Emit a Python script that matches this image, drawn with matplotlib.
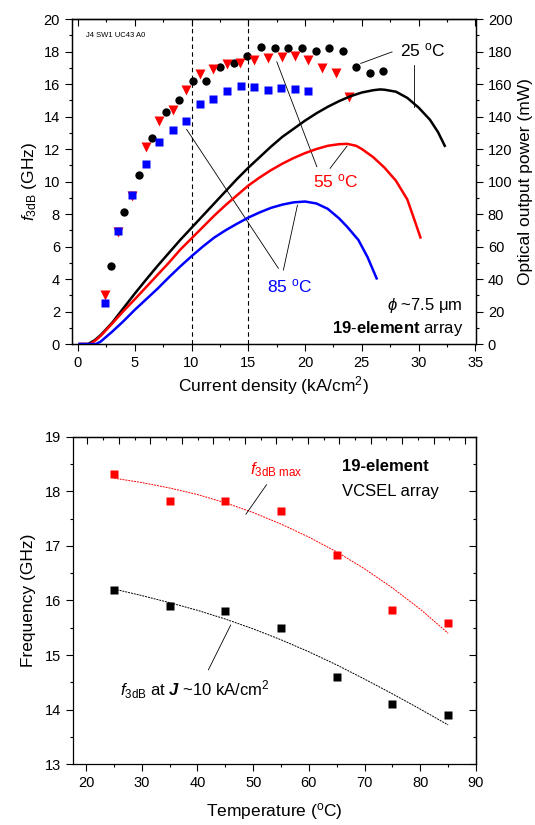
import numpy as np
import matplotlib.pyplot as plt
from matplotlib.ticker import MultipleLocator

plt.rcParams['font.family'] = ['Liberation Sans', 'DejaVu Sans']
plt.rcParams['mathtext.fontset'] = 'custom'
plt.rcParams['mathtext.rm'] = 'Liberation Sans'
plt.rcParams['mathtext.it'] = 'Liberation Sans:italic'
plt.rcParams['mathtext.bf'] = 'Liberation Sans:bold'
if 'mathtext.bfit' in plt.rcParams:
    plt.rcParams['mathtext.bfit'] = 'Liberation Sans:bold:italic'
plt.rcParams['axes.linewidth'] = 0.9

# ---- top panel: f3dB (symbols) and L-I curves vs current density ----
j25 = [2.95, 4.1, 5.35, 6.55, 7.75, 8.9, 10.1, 11.3, 12.55, 13.75, 14.9,
       16.1, 17.35, 18.5, 19.7, 20.95, 22.1, 23.3, 24.5, 25.7, 26.9]
f25 = [4.8, 8.1, 10.4, 12.7, 14.3, 15.0, 16.2, 16.2, 17.05, 17.3, 17.7,
       18.3, 18.2, 18.2, 18.2, 18.05, 18.2, 18.05, 17.05, 16.7, 16.8]
j55 = [2.35, 3.55, 4.73, 5.95, 7.13, 8.33, 9.52, 10.73, 11.92, 13.1, 14.28,
       15.5, 16.7, 17.93, 19.1, 20.3, 21.5, 22.7, 23.9]
f55 = [3.0, 6.9, 9.1, 12.1, 13.7, 14.4, 15.65, 16.6, 16.9, 17.25, 17.3,
       17.45, 17.6, 17.65, 17.75, 17.5, 17.0, 16.7, 15.2]
j85 = [2.38, 3.55, 4.73, 5.95, 7.13, 8.33, 9.52, 10.73, 11.92, 13.15, 14.33,
       15.5, 16.7, 17.9, 19.1, 20.3]
f85 = [2.55, 6.95, 9.15, 11.1, 12.45, 13.2, 13.7, 14.8, 15.08, 15.6, 15.85,
       15.8, 15.65, 15.75, 15.7, 15.55]

# optical output power (mW)
li_j25 = [0.15, 0.9, 1.5, 2, 3, 4, 5, 6, 7, 8, 9, 10, 11, 12, 13, 14, 15, 16,
          17, 18, 19, 20, 21, 22, 23, 24, 25, 26, 26.6, 27, 28, 29, 30, 31,
          31.7, 32.3]
li_p25 = [0, 0, 2.5, 5.5, 13, 22, 31, 39.6, 48, 56, 64, 71.5, 79, 86.5, 94,
          101.5, 108.5, 115, 121.5, 127.5, 132.5, 137.5, 142, 146, 149.5,
          152.5, 154.8, 156.2, 156.7, 156.5, 155.3, 151.5, 145.5, 138, 130.5,
          122]
li_j55 = [0.15, 1.1, 1.6, 2, 3, 4, 5, 6, 7, 8, 9, 10, 11, 12, 13, 14, 15, 16,
          17, 18, 19, 20, 21, 22, 23, 23.7, 24.5, 25, 26, 27, 28, 29, 29.6,
          30.16]
li_p55 = [0, 0, 2.5, 5, 12.5, 20.2, 27.5, 35, 42.5, 50, 58, 65, 72, 79, 85.5,
          91.5, 97.5, 102.5, 107, 111, 114.5, 117.5, 120, 122, 123, 123.2,
          122, 120, 115, 108.5, 100.5, 89, 77, 65.6]
li_j85 = [0.15, 1.6, 2, 3, 4, 5, 6, 7, 8, 9, 10, 11, 12, 13, 14, 15, 16, 17,
          18, 19, 20, 21, 22, 23, 23.7, 24.7, 25.5, 26.3]
li_p85 = [0, 0, 1.5, 7.5, 14, 21, 27.5, 34, 41, 47.7, 54, 60, 65.5, 70, 74,
          77.8, 81, 83.8, 85.8, 87.2, 87.7, 86.5, 83.2, 77.3, 72.2, 64, 53.5,
          40.4]

# ---- bottom panel: frequency vs temperature ----
temps = [25, 35, 45, 55, 65, 75, 85]
f3db_max = [18.32, 17.83, 17.83, 17.63, 16.83, 15.83, 15.58]
f3db_j10 = [16.2, 15.9, 15.8, 15.5, 14.6, 14.1, 13.9]
fit_t = [25, 30, 35, 40, 45, 50, 55, 60, 65, 70, 75, 80, 85]
fit_max = [18.24, 18.16, 18.06, 17.94, 17.79, 17.61, 17.40, 17.16, 16.89,
           16.58, 16.23, 15.84, 15.40]
fit_j10 = [16.21, 16.09, 15.96, 15.82, 15.66, 15.48, 15.28, 15.06, 14.82,
           14.56, 14.29, 14.01, 13.72]

RED = '#ff0000'
BLUE = '#0000ff'

fig = plt.figure(figsize=(5.35, 8.25), dpi=100)

# ================= top =================
ax1 = fig.add_axes([0.134, 0.583, 0.7557, 0.3939])
ax1.set_xlim(-0.55, 35.05)
ax1.set_ylim(0, 20)

ax1.axvline(10, color='k', lw=0.8, ls=(0, (4, 3)))
ax1.axvline(15, color='k', lw=0.8, ls=(0, (4, 3)))

ax1.plot(j25, f25, 'o', color='k', ms=6, mec='none', zorder=3)
ax1.plot(j55, f55, 'v', color=RED, ms=7, mec='none', zorder=3)
ax1.plot(j85, f85, 's', color=BLUE, ms=5.5, mec='none', zorder=3)

ax1.xaxis.set_major_locator(MultipleLocator(5))
ax1.xaxis.set_minor_locator(MultipleLocator(2.5))
ax1.yaxis.set_major_locator(MultipleLocator(2))
ax1.yaxis.set_minor_locator(MultipleLocator(1))
ax1.tick_params(which='both', direction='out', top=False, right=False,
                labelsize=10.5, width=0.8)
ax1.tick_params(which='major', length=5)
ax1.tick_params(which='minor', length=2.5)
top1 = ax1.secondary_xaxis('top')
top1.xaxis.set_major_locator(MultipleLocator(5))
top1.xaxis.set_minor_locator(MultipleLocator(2.5))
top1.tick_params(which='both', direction='in', labeltop=False, width=0.8)
top1.tick_params(which='major', length=5)
top1.tick_params(which='minor', length=2.5)

ax1.set_xlabel('Current density (kA/cm$^2$)', fontsize=12.5, labelpad=3)
ax1.set_ylabel('$f_{\\rm 3dB}$ (GHz)', fontsize=12.5, labelpad=3)

ax2 = ax1.twinx()
ax2.set_ylim(0, 200)
ax2.plot(li_j25, li_p25, color='k', lw=1.8)
ax2.plot(li_j55, li_p55, color=RED, lw=1.8)
ax2.plot(li_j85, li_p85, color=BLUE, lw=1.8)
ax2.yaxis.set_major_locator(MultipleLocator(20))
ax2.yaxis.set_minor_locator(MultipleLocator(10))
ax2.tick_params(which='both', direction='out', labelsize=10.5, width=0.8)
ax2.tick_params(which='major', length=5)
ax2.tick_params(which='minor', length=2.5)
ax2.set_ylabel('Optical output power (mW)', fontsize=12.5, labelpad=4)

# labels and leader lines
ax1.text(0.68, 19.0, 'J4 SW1 UC43 A0', fontsize=5.5, va='center')
ax1.text(28.4, 18.06, '25 $^{\\rm o}$C', fontsize=12.5, va='center')
ax1.plot([24.9, 27.66], [17.27, 17.98], color='k', lw=0.6)
ax1.plot([29.57, 29.57], [17.17, 14.6], color='k', lw=0.6)
ax1.text(20.74, 9.99, '55 $^{\\rm o}$C', fontsize=12.5, color=RED, va='center')
ax1.plot([17.51, 21.04], [17.37, 10.91], color='k', lw=0.6)
ax1.plot([22.2, 23.69], [10.81, 12.18], color='k', lw=0.6)
ax1.text(16.63, 3.53, '85 $^{\\rm o}$C', fontsize=12.5, color=BLUE, va='center')
ax1.plot([9.57, 17.65], [13.21, 4.66], color='k', lw=0.6)
ax1.plot([18.09, 19.33], [4.55, 8.55], color='k', lw=0.6)
ax1.text(33.84, 2.4, '$\\phi$ ~7.5 μm', fontsize=12, ha='right', va='center')
ax1.text(33.95, 0.97, '$\\mathbf{19\\text{-}element}$ array', fontsize=12,
         ha='right', va='center')

# ================= bottom =================
ax3 = fig.add_axes([0.1359, 0.0736, 0.7538, 0.3971])
ax3.set_xlim(17.6, 90)
ax3.set_ylim(13, 19)

ax3.plot(fit_t, fit_max, color=RED, lw=0.7, ls=(0, (2, 1)))
ax3.plot(fit_t, fit_j10, color='k', lw=0.7, ls=(0, (2, 1)))
ax3.plot(temps, f3db_max, 's', color=RED, ms=5.5, mec='none')
ax3.plot(temps, f3db_j10, 's', color='k', ms=5.5, mec='none')

ax3.xaxis.set_major_locator(MultipleLocator(10))
ax3.xaxis.set_minor_locator(MultipleLocator(5))
ax3.yaxis.set_major_locator(MultipleLocator(1))
ax3.yaxis.set_minor_locator(MultipleLocator(0.5))
ax3.tick_params(which='both', direction='out', top=False, right=False,
                labelsize=10.5, width=0.8)
ax3.tick_params(which='major', length=5)
ax3.tick_params(which='minor', length=2.5)

# mirrored axes on top and right with inward ticks
top3 = ax3.secondary_xaxis('top', functions=(lambda t: (t - 20.25) / 5.65,
                                             lambda k: k * 5.65 + 20.25))
top3.xaxis.set_major_locator(MultipleLocator(1))
top3.xaxis.set_minor_locator(MultipleLocator(0.5))
top3.tick_params(which='both', direction='in', labeltop=False, width=0.8)
top3.tick_params(which='major', length=5)
top3.tick_params(which='minor', length=2.5)
right3 = ax3.secondary_yaxis('right')
right3.yaxis.set_major_locator(MultipleLocator(1))
right3.yaxis.set_minor_locator(MultipleLocator(0.5))
right3.tick_params(which='both', direction='in', labelright=False, width=0.8)
right3.tick_params(which='major', length=5)
right3.tick_params(which='minor', length=2.5)

ax3.set_xlabel('Temperature ($^{\\rm o}$C)', fontsize=12.5, labelpad=8)
ax3.set_ylabel('Frequency (GHz)', fontsize=12.5, labelpad=6)

ax3.text(49.4, 18.39, '$f_{\\rm 3dB\\ max}$', fontsize=12, color=RED,
         va='center')
ax3.plot([52.4, 48.7], [18.12, 17.58], color='k', lw=0.6)
ax3.text(65.9, 18.45, '19-element', fontsize=12, fontweight='bold',
         va='center')
ax3.text(65.9, 18.0, 'VCSEL array', fontsize=12, va='center')
ax3.text(26.1, 14.36, '$f_{\\rm 3dB}$ at $\\boldsymbol{J}$ ~10 kA/cm$^2$',
         fontsize=12, va='center')
ax3.plot([41.96, 45.96], [14.73, 15.55], color='k', lw=0.6)

fig.savefig('out.png', dpi=100)
